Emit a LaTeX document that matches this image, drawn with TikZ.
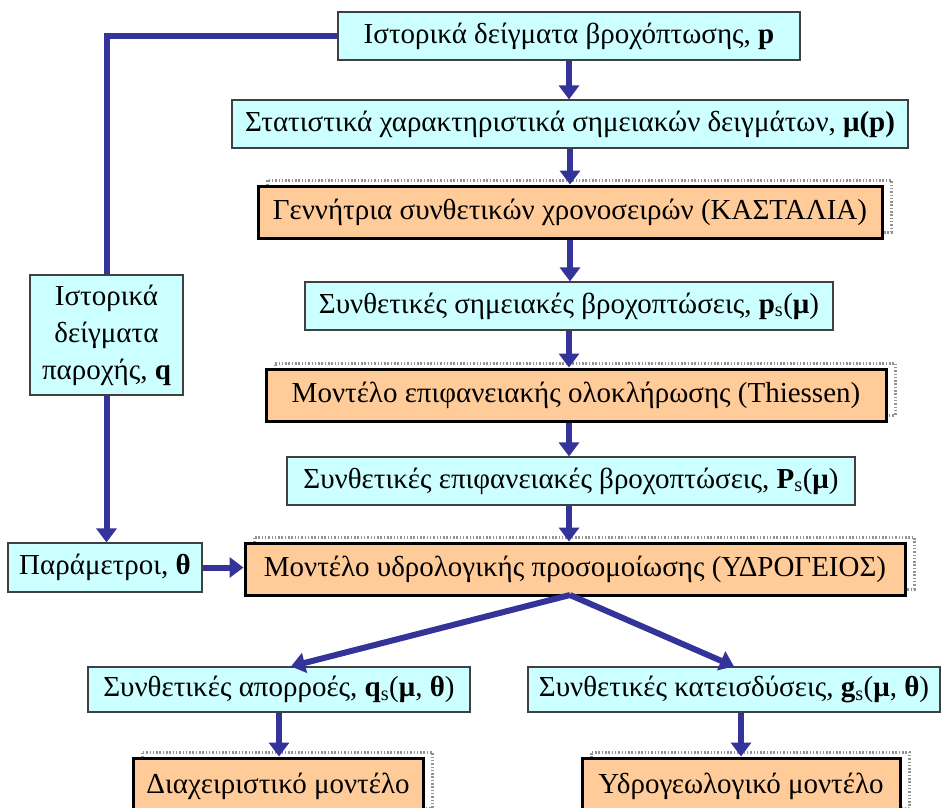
\documentclass[tikz,border=0pt]{standalone}
\usepackage{fontspec}
\setmainfont{Liberation Serif}
\usetikzlibrary{arrows.meta,shadows}

\definecolor{databg}{HTML}{CCFFFF}
\definecolor{modelbg}{HTML}{FFCC99}
\definecolor{flowblue}{HTML}{333399}

\tikzset{
  databox/.style={draw=black!75, fill=databg, line width=1.2pt, inner sep=0pt,
    font=\fontsize{29}{37}\selectfont},
  modelbox/.style={draw=black, fill=modelbg, line width=3pt, inner sep=0pt,
    font=\fontsize{29}{37}\selectfont,
    general shadow={shadow xshift=9pt, shadow yshift=6pt, fill=none,
      draw=gray!85, line width=3pt, dash pattern=on 1.5pt off 1.8pt}},
  flow/.style={draw=flowblue, line width=6pt, -{Triangle[length=14pt,width=20pt]}},
  feed/.style={draw=flowblue, line width=6pt},
}

\begin{document}
\begin{tikzpicture}[x=1pt, y=-1pt]
  \useasboundingbox (0,0) rectangle (941,807);

  % main chain
  \node[databox, minimum width=462, minimum height=48] (histp) at (569,36)
    {Ιστορικά δείγματα βροχόπτωσης, \textbf{p}};
  \node[databox, minimum width=676, minimum height=48] (stats) at (570,124)
    {Στατιστικά χαρακτηριστικά σημειακών δειγμάτων, \textbf{μ(p)}};
  \node[modelbox, minimum width=624, minimum height=52] (kastalia) at (570,212)
    {Γεννήτρια συνθετικών χρονοσειρών (ΚΑΣΤΑΛΙΑ)};
  \node[databox, minimum width=528, minimum height=48] (pointrain) at (569,306)
    {Συνθετικές σημειακές βροχοπτώσεις, \textbf{p}\textsubscript{s}(\textbf{μ})};
  \node[modelbox, minimum width=620, minimum height=52] (thiessen) at (576,395)
    {Μοντέλο επιφανειακής ολοκλήρωσης (Thiessen)};
  \node[databox, minimum width=568, minimum height=48] (arearain) at (571,481)
    {Συνθετικές επιφανειακές βροχοπτώσεις, \textbf{P}\textsubscript{s}(\textbf{μ})};
  \node[modelbox, minimum width=660, minimum height=52] (ydrogeios) at (575,569)
    {Μοντέλο υδρολογικής προσομοίωσης (ΥΔΡΟΓΕΙΟΣ)};

  % left branch
  \node[databox, minimum width=153, minimum height=120, align=center] (histq) at (106.5,335)
    {Ιστορικά\\δείγματα\\παροχής, \textbf{q}};
  \node[databox, minimum width=194, minimum height=49] (params) at (105,567.5)
    {Παράμετροι, \textbf{θ}};

  % outputs
  \node[databox, minimum width=382, minimum height=45] (runoff) at (279,689.5)
    {Συνθετικές απορροές, \textbf{q}\textsubscript{s}(\textbf{μ}, \textbf{θ})};
  \node[databox, minimum width=412, minimum height=45] (recharge) at (734,689.5)
    {Συνθετικές κατεισδύσεις, \textbf{g}\textsubscript{s}(\textbf{μ}, \textbf{θ})};
  \node[modelbox, minimum width=290, minimum height=56] (manage) at (278,786)
    {Διαχειριστικό μοντέλο};
  \node[modelbox, minimum width=318, minimum height=56] (hydrogeo) at (741,786)
    {Υδρογεωλογικό μοντέλο};

  \coordinate (split) at (570,595);

  \draw[flow] (histp.south) -- (histp.south |- stats.north);
  \draw[flow] (stats.south) -- (stats.south |- kastalia.north);
  \draw[flow] (kastalia.south) -- (kastalia.south |- pointrain.north);
  \draw[flow] (pointrain.south) -- (pointrain.south |- thiessen.north);
  \draw[flow] (pointrain.south |- thiessen.south) -- (pointrain.south |- arearain.north);
  \draw[flow] (pointrain.south |- arearain.south) -- (pointrain.south |- ydrogeios.north);

  \draw[feed] (histp.west) -| (histq.north);
  \draw[flow] (histq.south) -- (histq.south |- params.north);
  \draw[flow] (params.east) -- (params.east -| ydrogeios.west);

  \draw[flow] (split) -- ([xshift=12pt]runoff.north);
  \draw[flow] (split) -- (recharge.north);
  \draw[flow] (runoff.south) -- (runoff.south |- manage.north);
  \draw[flow] (hydrogeo.north |- recharge.south) -- (hydrogeo.north);
\end{tikzpicture}
\end{document}
